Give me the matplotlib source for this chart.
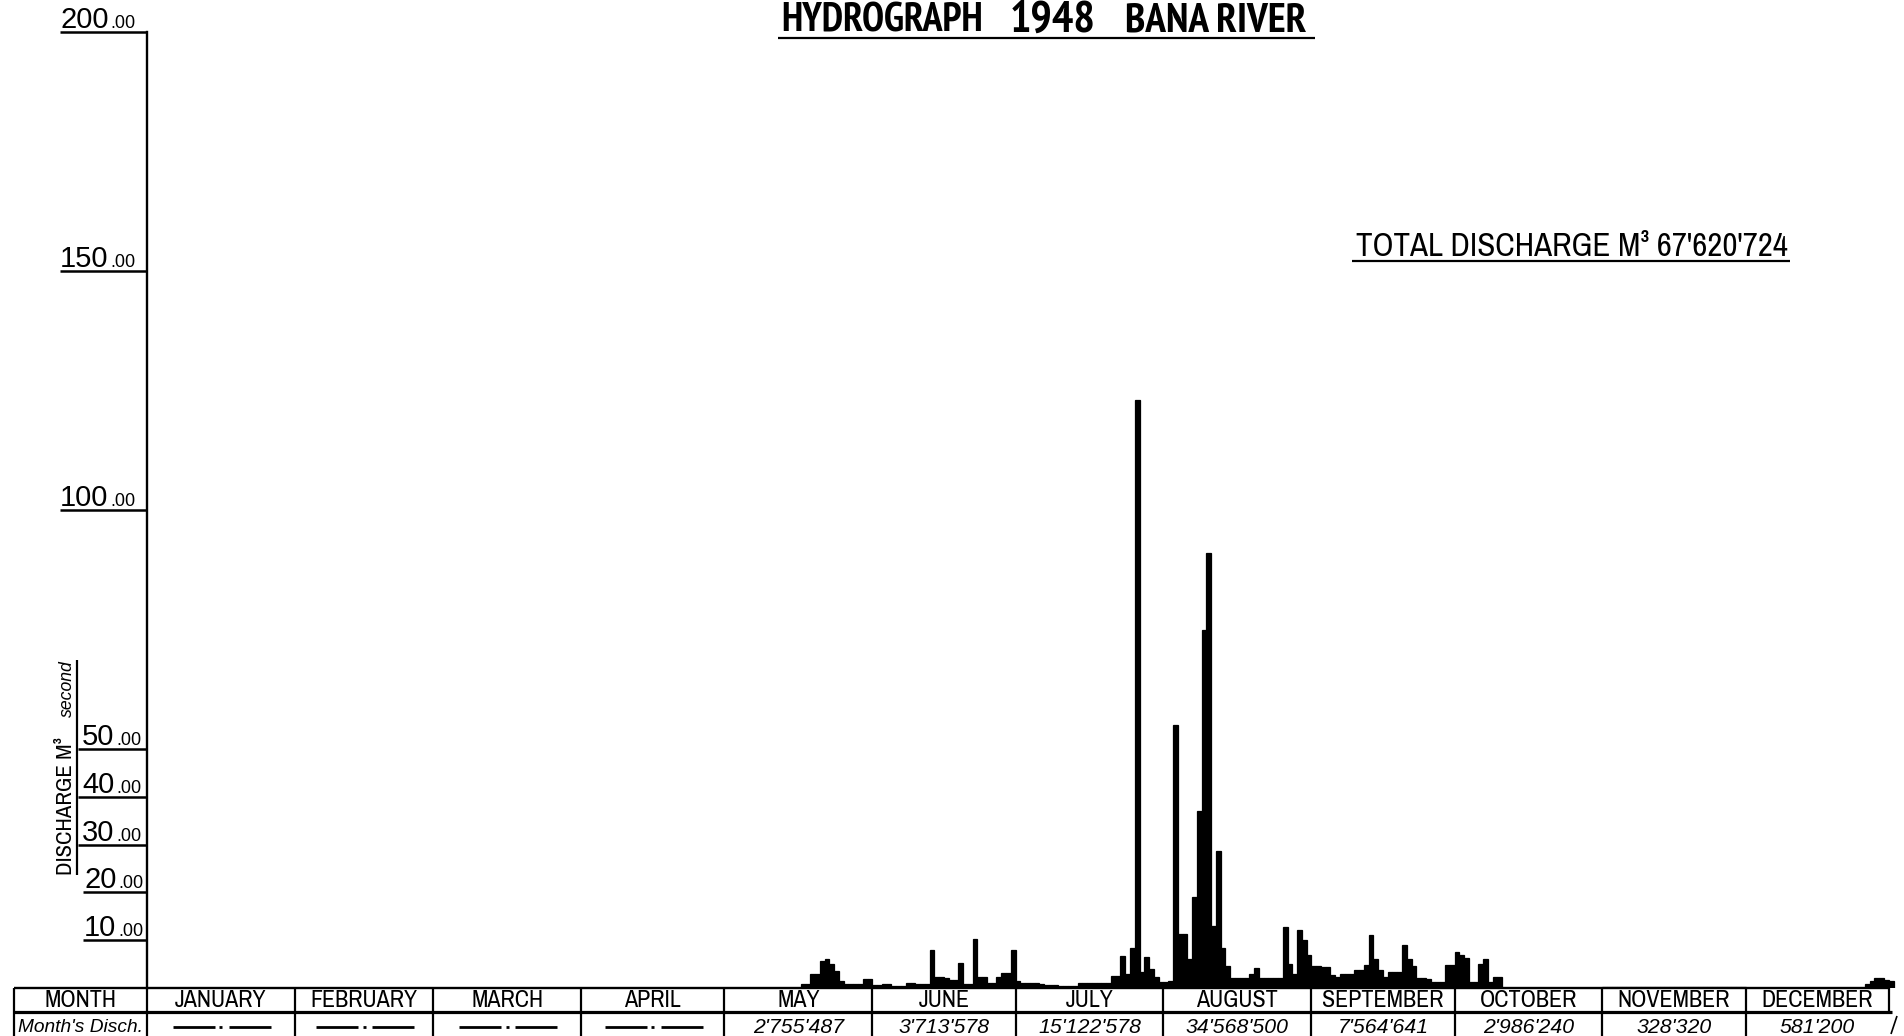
import numpy as np
import matplotlib
matplotlib.use("Agg")
from matplotlib import pyplot
from matplotlib import font_manager
from matplotlib.font_manager import FontProperties
from matplotlib.lines import Line2D

W, H = 1904, 1036

# ---- data, 1948 (leap year) ----
month_names = ["JANUARY", "FEBRUARY", "MARCH", "APRIL", "MAY", "JUNE", "JULY",
               "AUGUST", "SEPTEMBER", "OCTOBER", "NOVEMBER", "DECEMBER"]
month_days = [31, 29, 31, 30, 31, 30, 31, 31, 30, 31, 30, 31]
month_disch = [None, None, None, None, "2'755'487", "3'713'578", "15'122'578",
               "34'568'500", "7'564'641", "2'986'240", "328'320", "581'200"]
total_disch = "67'620'724"
y_ticks = [200, 150, 100, 50, 40, 30, 20, 10]

# daily discharge m3/s read off the hydrograph, from 1 May (jan-apr no flow)
may = [0, 0, 0, 0, 0, 0, 0, 0, 0, 0, 0, 0, 0, 0, 0, 0,
       0.8, 0.8, 2.9, 2.9, 5.6, 6.0, 5.0, 3.6, 1.5, 0.8, 0.8, 0.8, 0.8, 1.8, 1.8]
jun = [0.6, 0.6, 0.8, 0.8, 0.4, 0.4, 0.4, 1.1, 1.1, 0.8, 0.8, 0.8, 8.0, 2.3, 2.3,
       2.0, 1.7, 1.7, 5.2, 0.8, 0.8, 10.3, 2.2, 2.2, 1.1, 1.1, 2.2, 3.1, 3.1, 7.9]
jul = [1.5, 1.1, 1.1, 1.1, 1.1, 0.8, 0.6, 0.6, 0.6, 0.5, 0.5, 0.5, 0.5, 1.0, 1.0, 1.0,
       1.0, 1.0, 1.0, 1.0, 2.5, 2.5, 6.7, 3.0, 8.3, 123.0, 3.4, 6.5, 4.0, 2.4, 1.3]
aug = [1.3, 1.5, 55.0, 11.4, 11.4, 6.0, 19.0, 37.0, 75.0, 91.0, 13.0, 28.7, 8.3, 4.5, 2.0,
       2.0, 2.0, 2.0, 3.0, 4.2, 2.0, 2.0, 2.0, 2.0, 2.0, 12.8, 5.0, 3.0, 12.1, 10.0, 7.0]
sep = [4.7, 4.7, 4.3, 4.3, 2.7, 2.2, 2.9, 2.9, 2.9, 3.8, 3.8, 4.8, 11.1, 6.0, 3.8,
       2.4, 3.4, 3.4, 3.4, 9.1, 6.0, 4.5, 2.0, 2.0, 1.8, 1.3, 1.3, 1.2, 4.8, 4.8]
octo = [7.6, 7.0, 6.2, 1.3, 1.3, 5.0, 6.0, 1.3, 2.2, 2.2,
        0.1, 0.1, 0.1, 0.1, 0.1, 0.1, 0.1, 0.1, 0.1, 0.1, 0.1,
        0.1, 0.1, 0.1, 0.1, 0.1, 0.1, 0.1, 0.1, 0.1, 0.1]
nov = [0.13, 0.13, 0.13, 0.13, 0.13, 0.13, 0.13, 0.13, 0.13, 0.13,
       0.13, 0.13, 0.13, 0.13, 0.13, 0.13, 0.13, 0.13, 0.13, 0.13,
       0.13, 0.13, 0.13, 0.13, 0.13, 0.13, 0.13, 0.13, 0.13, 0.13]
dec = [0.05, 0.05, 0.05, 0.05, 0.05, 0.05, 0.05, 0.05, 0.05, 0.05,
       0.05, 0.05, 0.05, 0.05, 0.05, 0.05, 0.05, 0.05, 0.05, 0.05,
       0.05, 0.05, 0.05, 0.05, 0.05, 0.8, 1.5, 2.0, 2.0, 1.7, 1.5]


# ---- fonts: look for some condensed face, else plain ----
def wnum(w):
    if isinstance(w, str):
        return font_manager.weight_dict.get(w, 400)
    return w


def find_condensed(bold=False):
    cands = []
    for f in font_manager.fontManager.ttflist:
        st = str(f.stretch)
        if f.style != 'normal':
            continue
        cond = ('condensed' in st) or (st.isdigit() and int(st) < 500) or ('Narrow' in f.name) \
            or ('Condensed' in f.name)
        if not cond:
            continue
        w = wnum(f.weight)
        score = abs(w - (700 if bold else 420))
        if 'Narrow' in f.name:
            score -= 50
        if 'extra' in st or 'ultra' in st:
            score += 200
        cands.append((score, f.fname))
    if cands:
        cands.sort()
        return FontProperties(fname=cands[0][1])
    return FontProperties(family='DejaVu Sans', weight='bold' if bold else 'normal')


NARROW = find_condensed(False)
NARROW_B = find_condensed(True)
names = {f.name for f in font_manager.fontManager.ttflist}
PLAIN = 'Liberation Sans' if 'Liberation Sans' in names else 'DejaVu Sans'

fig = pyplot.figure(figsize=(W / 100, H / 100), dpi=100)
fig.patch.set_facecolor('white')
rend = fig.canvas.get_renderer()

AX_X, BASE_Y, TOP_Y = 147, 988, 32
px_day = 4.772
ax = fig.add_axes([AX_X / W, 1 - BASE_Y / H, (W - AX_X) / W, (BASE_Y - TOP_Y) / H])
ax.set_xlim(0, (W - AX_X) / px_day)
ax.set_ylim(0, 200)
for s in ['top', 'right', 'bottom']:
    ax.spines[s].set_visible(False)
ax.spines['left'].set_linewidth(1.7)
ax.set_xticks([])
ax.set_yticks([])
ax.patch.set_visible(False)

flow = np.array(may + jun + jul + aug + sep + octo + nov + dec)
start = sum(month_days[:4])
days = start + np.arange(len(flow))
ax.bar(days, flow, width=1.0, align='edge', color='black', edgecolor='black', linewidth=0.9)


def fx(px):
    return px / W


def fy(py):
    return 1 - py / H


def xpix(d):
    return ax.transData.transform((d, 0))[0]


def ypix(v):
    return H - ax.transData.transform((0, v))[1]


def seg(x0, y0, x1, y1, lw=1.4):
    fig.add_artist(Line2D([fx(x0), fx(x1)], [fy(y0), fy(y1)], transform=fig.transFigure,
                          color='black', lw=lw, solid_capstyle='butt'))


def put(s, x, y, size, font, width=None, ha='left', rot=0, style='normal', weight='normal'):
    if isinstance(font, FontProperties):
        fp = font.copy()
    else:
        fp = FontProperties(family=font, style=style, weight=weight)
    fp.set_size(size)
    t = fig.text(fx(x), fy(y), s, fontproperties=fp, ha=ha, va='baseline',
                 color='black', rotation=rot, rotation_mode='anchor')
    if width:
        bb = t.get_window_extent(rend)
        cur = bb.height if rot else bb.width
        t.set_fontsize(size * width / cur)
    return t


# ---- y axis ticks / labels ----
for v in y_ticks:
    yp = ypix(v)
    if v >= 100:
        x0, xl = 60, 60
    elif v >= 30:
        x0, xl = 78, 82
    else:
        x0, xl = 83, 84
    seg(x0, yp, AX_X, yp, lw=1.8)
    big = put(str(v), xl, yp - 4, 21, PLAIN)
    bb = big.get_window_extent(rend)
    put('.00', bb.x1 + 2, yp - 4, 13, PLAIN)

seg(77, 660, 77, 875, lw=1.6)
put('DISCHARGE M³', 72, 875, 15, NARROW, width=138, rot=90)
put('second', 72, 717, 12, PLAIN, width=57, rot=90, style='italic')

# ---- titles (kept just inside the top edge) ----
tbase = 22
titles = [put('HYDROGRAPH', 781, tbase, 25, NARROW_B, width=202),
          put('1948', 1010, tbase, 30, NARROW_B, width=86),
          put('BANA RIVER', 1125, tbase, 25, NARROW_B, width=182)]
top = max(t.get_window_extent(rend).y1 for t in titles)
shift = max(0.0, top - (H - 1))
for t in titles:
    t.set_y(fy(tbase + shift))
seg(778, tbase + shift + 6, 1315, tbase + shift + 6, lw=1.6)

put('TOTAL DISCHARGE M³ ' + total_disch, 1356, 256, 22, NARROW, width=432)
seg(1352, 261, 1790, 261, lw=1.6)

# ---- month table ----
TL, TR = 14, 1889
R1, R2 = 988, 1012
starts = np.concatenate([[0], np.cumsum(month_days)[:-1]])
borders = [TL] + [xpix(d) for d in starts] + [TR]
seg(TL, R1, TR, R1, lw=1.7)
seg(TL, R2, TR + 3, R2, lw=2.3)
for b in borders[:-1]:
    seg(b, R1, b, H, lw=1.6)
seg(TR, R1, TR, R2, lw=1.6)
seg(1891, 1034, 1897, 1016, lw=1.2)

probe = put('AUGUST', 0, -100, 15, NARROW, width=82)
msize = probe.get_fontsize()
probe.remove()
probe = put("15'122'578", 0, -100, 15, PLAIN, width=103, style='italic')
vsize = probe.get_fontsize()
probe.remove()

put('MONTH', (borders[0] + borders[1]) / 2, 1007, msize, NARROW, ha='center')
put("Month's Disch.", (borders[0] + borders[1]) / 2, 1032, 14, PLAIN, width=125,
    ha='center', style='italic')
for i, name in enumerate(month_names):
    c = (borders[i + 1] + borders[i + 2]) / 2
    put(name, c, 1007, msize, NARROW, ha='center')
    if month_disch[i] is None:
        seg(c - 48, 1027, c - 6, 1027, lw=2.0)
        seg(c - 1.5, 1027, c + 1.5, 1027, lw=2.0)
        seg(c + 8, 1027, c + 50, 1027, lw=2.0)
    else:
        put(month_disch[i], c, 1033, vsize, PLAIN, ha='center', style='italic')

fig.savefig('out.png', dpi=100, facecolor='white')
